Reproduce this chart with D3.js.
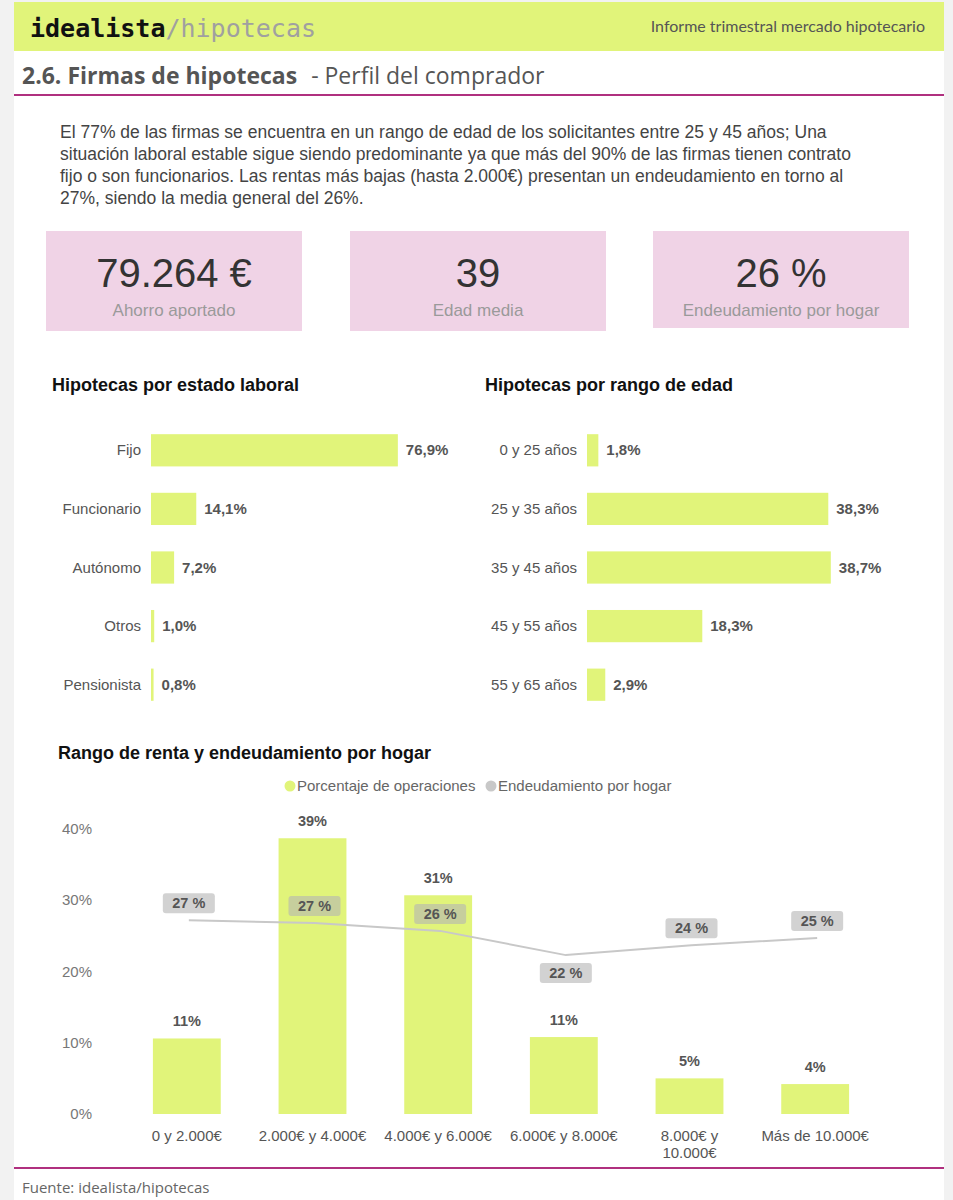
<!DOCTYPE html>
<html><head><meta charset="utf-8">
<script src="https://cdn.jsdelivr.net/npm/d3@7"></script>
<style>
html,body{margin:0;padding:0;background:#f2f2f2;}
svg{display:block;}
</style></head>
<body>
<svg id="c" width="953" height="1200"></svg>
<script>
// ---- data ----
const paragraphLines = [
  "El 77% de las firmas se encuentra en un rango de edad de los solicitantes entre 25 y 45 años; Una",
  "situación laboral estable sigue siendo predominante ya que más del 90% de las firmas tienen contrato",
  "fijo o son funcionarios. Las rentas más bajas (hasta 2.000€)  presentan un endeudamiento en torno al",
  "27%, siendo la media general del 26%."
];
const kpiValues = ["79.264 €", "39", "26 %"];
const kpiLabels = ["Ahorro aportado", "Edad media", "Endeudamiento por hogar"];

const laboralCats = ["Fijo", "Funcionario", "Autónomo", "Otros", "Pensionista"];
const laboralVals = [76.9, 14.1, 7.2, 1.0, 0.8];

const edadCats = ["0 y 25 años", "25 y 35 años", "35 y 45 años", "45 y 55 años", "55 y 65 años"];
const edadVals = [1.8, 38.3, 38.7, 18.3, 2.9];

const rentaCats = [["0 y 2.000€"], ["2.000€ y 4.000€"], ["4.000€ y 6.000€"], ["6.000€ y 8.000€"], ["8.000€ y", "10.000€"], ["Más de 10.000€"]];
const operacionesVals = [10.6, 38.7, 30.7, 10.8, 5.0, 4.2];
const endeudamientoVals = [27.2, 26.8, 25.7, 22.3, 23.7, 24.7];
const yTicks = [0, 10, 20, 30, 40];

// ---- styles ----
const GREEN = "#e1f47a";
const MAGENTA = "#b0307f";
const svg = d3.select("#c");
const SANS = "'Liberation Sans', Arial, sans-serif";

// page
svg.append("rect").attr("x",0).attr("y",0).attr("width",953).attr("height",1200).attr("fill","#f2f2f2");
svg.append("rect").attr("x",14).attr("y",2).attr("width",930).attr("height",1198).attr("fill","#ffffff");

// header
svg.append("rect").attr("x",14).attr("y",2).attr("width",930).attr("height",49).attr("fill",GREEN);
const logo = svg.append("text").attr("x",30).attr("y",37).attr("font-family","'DejaVu Sans Mono', monospace").attr("font-size",25);
logo.append("tspan").attr("fill","#111").attr("font-weight","bold").text("idealista");
logo.append("tspan").attr("fill","#a0a0a0").text("/hipotecas");
svg.append("text").attr("x",925).attr("y",32).attr("text-anchor","end").attr("font-family","Lato, 'Open Sans', sans-serif")
  .attr("font-size",16).attr("fill","#555").text("Informe trimestral  mercado hipotecario");

// title
const tt = svg.append("text").attr("x",22).attr("y",84).attr("font-family","'Open Sans', sans-serif").attr("font-size",23).attr("fill","#555");
tt.append("tspan").attr("font-weight","bold").text("2.6. Firmas de hipotecas");
tt.append("tspan").attr("dx",14).text("- Perfil del comprador");
svg.append("line").attr("x1",14).attr("x2",944).attr("y1",95).attr("y2",95).attr("stroke",MAGENTA).attr("stroke-width",2);

// paragraph
svg.append("g").selectAll("text").data(paragraphLines).join("text")
  .attr("x",60).attr("y",(d,i)=>138+i*22).attr("font-family",SANS).attr("font-size",17.5).attr("fill","#444")
  .text(d=>d);

// KPI boxes
const kpiX = [46, 350, 653];
const kpiH = [100, 100, 97];
const kg = svg.append("g");
kpiValues.forEach((v,i)=>{
  kg.append("rect").attr("x",kpiX[i]).attr("y",231).attr("width",256).attr("height",kpiH[i]).attr("fill","#f0d3e6");
  kg.append("text").attr("x",kpiX[i]+128).attr("y",287).attr("text-anchor","middle").attr("font-family",SANS)
    .attr("font-size",40).attr("fill","#333").text(v);
  kg.append("text").attr("x",kpiX[i]+128).attr("y",316).attr("text-anchor","middle").attr("font-family",SANS)
    .attr("font-size",17).attr("fill","#9a9a9a").text(kpiLabels[i]);
});

// horizontal bar charts
function hbar(title, titleX, cats, vals, x0, pxPerPct, labelX){
  const g = svg.append("g");
  g.append("text").attr("x",titleX).attr("y",391).attr("font-family",SANS).attr("font-weight","bold")
    .attr("font-size",18).attr("fill","#111").text(title);
  const y = d3.scaleBand().domain(cats).range([421, 714]).paddingInner(0.45).paddingOuter(0.225);
  const x = d3.scaleLinear().domain([0, 1]).range([x0, x0 + pxPerPct]);
  g.selectAll("rect").data(vals).join("rect")
    .attr("x",x(0)).attr("y",(d,i)=>y(cats[i])).attr("height",y.bandwidth())
    .attr("width",d=>Math.max(2, x(d)-x(0))).attr("fill",GREEN);
  g.selectAll("text.cat").data(cats).join("text").attr("class","cat")
    .attr("x",labelX).attr("y",d=>y(d)+y.bandwidth()/2+5).attr("text-anchor","end")
    .attr("font-family",SANS).attr("font-size",15).attr("fill","#555").text(d=>d);
  g.selectAll("text.val").data(vals).join("text").attr("class","val")
    .attr("x",d=>Math.max(x(d), x(0)+2)+8).attr("y",(d,i)=>y(cats[i])+y.bandwidth()/2+5)
    .attr("font-family",SANS).attr("font-weight","bold").attr("font-size",15).attr("fill","#555")
    .text(d=>d3.format(".1f")(d).replace(".",",")+"%");
}
hbar("Hipotecas por estado laboral", 52, laboralCats, laboralVals, 151, 3.21, 141);
hbar("Hipotecas por rango de edad", 485, edadCats, edadVals, 587, 6.3, 577);

// combo chart
const cg = svg.append("g");
cg.append("text").attr("x",58).attr("y",759).attr("font-family",SANS).attr("font-weight","bold")
  .attr("font-size",18).attr("fill","#111").text("Rango de renta y endeudamiento por hogar");

// legend
const lg = cg.append("g").attr("font-family",SANS).attr("font-size",15).attr("fill","#666");
lg.append("circle").attr("cx",290).attr("cy",786).attr("r",5.5).attr("fill",GREEN);
lg.append("text").attr("x",297).attr("y",791).text("Porcentaje de operaciones");
lg.append("circle").attr("cx",491).attr("cy",786).attr("r",5.5).attr("fill","#c8c8c8");
lg.append("text").attr("x",498).attr("y",791).text("Endeudamiento por hogar");

const xb = d3.scaleBand().domain(d3.range(rentaCats.length)).range([124, 878]).paddingInner(0.46).paddingOuter(0.23);
const yl = d3.scaleLinear().domain([0, 40]).range([1114, 829]);

// y axis labels
cg.append("g").selectAll("text").data(yTicks).join("text")
  .attr("x",92).attr("y",d=>yl(d)+5).attr("text-anchor","end").attr("font-family",SANS)
  .attr("font-size",15).attr("fill","#777").text(d=>d+"%");

// bars
cg.append("g").selectAll("rect").data(operacionesVals).join("rect")
  .attr("x",(d,i)=>xb(i)).attr("width",xb.bandwidth()).attr("y",d=>yl(d)).attr("height",d=>yl(0)-yl(d)).attr("fill",GREEN);
cg.append("g").selectAll("text").data(operacionesVals).join("text")
  .attr("x",(d,i)=>xb(i)+xb.bandwidth()/2).attr("y",d=>yl(d)-12).attr("text-anchor","middle")
  .attr("font-family",SANS).attr("font-weight","bold").attr("font-size",14.5).attr("fill","#555")
  .text(d=>d3.format(".0f")(d)+"%");

// x labels
const xl = cg.append("g").selectAll("text").data(rentaCats).join("text")
  .attr("x",(d,i)=>xb(i)+xb.bandwidth()/2).attr("y",1141).attr("text-anchor","middle")
  .attr("font-family",SANS).attr("font-size",15).attr("fill","#555");
xl.selectAll("tspan").data(d=>d).join("tspan").attr("x",function(){return this.parentNode.getAttribute("x");})
  .attr("dy",(d,i)=>i===0?0:17).text(d=>d);

// line
const cx = i => xb(i)+xb.bandwidth()/2 + 2;
cg.append("path").datum(endeudamientoVals)
  .attr("d", d3.line().x((d,i)=>cx(i)).y(d=>yl(d)))
  .attr("fill","none").attr("stroke","#c8c8c8").attr("stroke-width",2);

// line labels
const below = endeudamientoVals.map((d,i)=> i>0 && i<endeudamientoVals.length-1 && d<endeudamientoVals[i-1] && d<endeudamientoVals[i+1]);
const ll = cg.append("g").selectAll("g").data(endeudamientoVals).join("g")
  .attr("transform",(d,i)=>`translate(${cx(i)},${yl(d)+(below[i]?18:-17)})`);
ll.append("rect").attr("x",-26).attr("y",-10).attr("width",52).attr("height",20).attr("rx",3)
  .attr("fill","#b4b4b4").attr("fill-opacity",0.6);
ll.append("text").attr("y",5).attr("text-anchor","middle").attr("font-family",SANS).attr("font-weight","bold")
  .attr("font-size",14.5).attr("fill","#555").text(d=>d3.format(".0f")(d)+" %");

// footer
svg.append("line").attr("x1",14).attr("x2",944).attr("y1",1168).attr("y2",1168).attr("stroke",MAGENTA).attr("stroke-width",2);
svg.append("text").attr("x",22).attr("y",1193).attr("font-family","'Open Sans', sans-serif").attr("font-size",15)
  .attr("fill","#666").text("Fuente: idealista/hipotecas");
</script>
</body></html>
